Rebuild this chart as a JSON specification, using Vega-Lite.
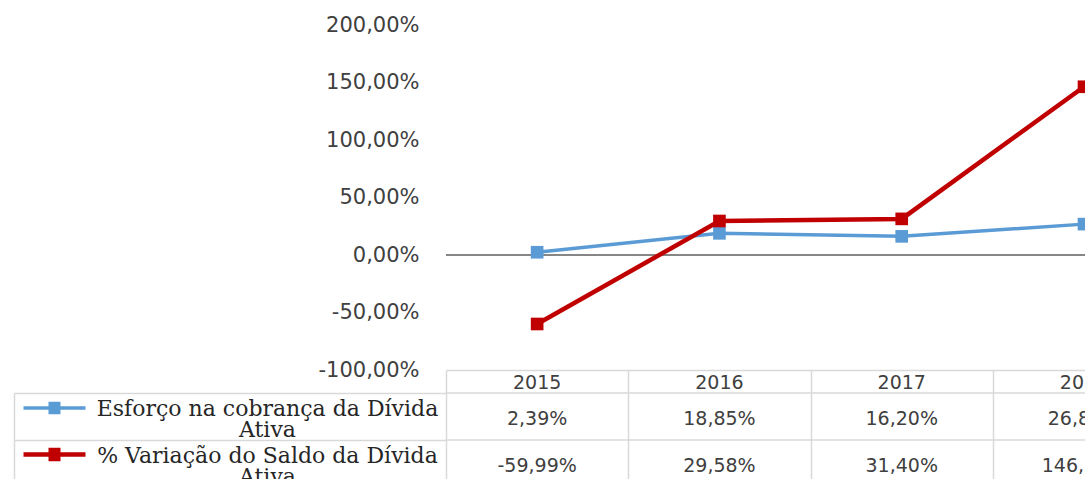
{
  "$schema": "https://vega.github.io/schema/vega-lite/v6.json",
  "background": "white",
  "padding": {"left": 13, "top": 14, "right": 0, "bottom": 0},
  "bounds": "flush",
  "spacing": 0,
  "config": {
    "view": {"stroke": null},
    "locale": {"number": {"decimal": ",", "thousands": ".", "grouping": [3], "currency": ["R$", ""], "minus": "-"}}
  },
  "datasets": {
    "valores": [
      {"ano": 2015, "serie": "Esforço na cobrança da Dívida Ativa", "valor": 0.0239},
      {"ano": 2016, "serie": "Esforço na cobrança da Dívida Ativa", "valor": 0.1885},
      {"ano": 2017, "serie": "Esforço na cobrança da Dívida Ativa", "valor": 0.1620},
      {"ano": 2018, "serie": "Esforço na cobrança da Dívida Ativa", "valor": 0.2685},
      {"ano": 2015, "serie": "% Variação do Saldo da Dívida Ativa", "valor": -0.5999},
      {"ano": 2016, "serie": "% Variação do Saldo da Dívida Ativa", "valor": 0.2958},
      {"ano": 2017, "serie": "% Variação do Saldo da Dívida Ativa", "valor": 0.3140},
      {"ano": 2018, "serie": "% Variação do Saldo da Dívida Ativa", "valor": 1.4630}
    ]
  },
  "vconcat": [
    {
      "width": 640,
      "height": 345,
      "data": {"name": "valores"},
      "layer": [
        {
          "data": {"values": [{"zero": 0}]},
          "mark": {"type": "rule", "color": "#868686", "strokeWidth": 2},
          "encoding": {"y": {"field": "zero", "type": "quantitative"}}
        },
        {
          "mark": {"type": "line", "clip": true, "point": {"shape": "square", "size": 160, "filled": true, "clip": true}},
          "encoding": {
            "x": {"field": "ano", "type": "quantitative", "scale": {"domain": [2014.5, 2018.011], "nice": false, "zero": false}, "axis": null},
            "y": {
              "field": "valor", "type": "quantitative",
              "scale": {"domain": [-1, 2], "nice": false},
              "axis": {"title": null, "values": [-1, -0.5, 0, 0.5, 1, 1.5, 2], "format": ".2%", "grid": false, "ticks": false, "domain": false, "labelFont": "DejaVu Sans", "labelFontSize": 21, "labelColor": "#404040", "labelPadding": 27}
            },
            "strokeWidth": {
              "field": "serie", "type": "nominal",
              "scale": {"domain": ["Esforço na cobrança da Dívida Ativa", "% Variação do Saldo da Dívida Ativa"], "range": [3.5, 4.5]},
              "legend": null
            },
            "color": {
              "field": "serie", "type": "nominal",
              "scale": {"domain": ["Esforço na cobrança da Dívida Ativa", "% Variação do Saldo da Dívida Ativa"], "range": ["#5B9BD5", "#C00000"]},
              "legend": {"orient": "none", "legendX": -404, "legendY": 371, "title": null, "symbolType": "M-3.1,0H3.1M-0.6,-0.45H0.6M-0.6,-0.15H0.6M-0.6,0.15H0.6M-0.6,0.45H0.6", "symbolSize": 400, "symbolStrokeWidth": 4, "labelFontSize": 1, "labelExpr": "''", "rowPadding": 21, "padding": 0, "symbolOffset": 0}
            }
          }
        }
      ]
    },
    {
      "width": 640,
      "height": 23,
      "data": {"name": "valores"},
      "transform": [{"filter": "datum.serie == 'Esforço na cobrança da Dívida Ativa'"}],
      "mark": {"type": "text", "font": "DejaVu Sans", "fontSize": 19, "color": "#404040", "clip": true, "dy": 1},
      "encoding": {
        "x": {"field": "ano", "type": "quantitative", "scale": {"domain": [2014.5, 2018.011], "nice": false, "zero": false},
              "axis": {"orient": "top", "title": null, "values": [2014.5, 2015.5, 2016.5, 2017.5], "grid": true, "gridColor": "#d9d9d9", "gridWidth": 1.5, "labels": false, "ticks": false, "domain": true, "domainColor": "#d9d9d9", "domainWidth": 1.5}},
        "text": {"field": "ano", "type": "nominal"}
      }
    },
    {
      "width": 640,
      "height": 94,
      "data": {"name": "valores"},
      "layer": [
        {
          "transform": [{"filter": "datum.ano == 2015"}],
          "mark": {"type": "rule", "color": "#d9d9d9", "strokeWidth": 1.5},
          "encoding": {
            "y": {"field": "serie", "type": "nominal", "bandPosition": 0}
          }
        },
        {
          "mark": {"type": "text", "font": "DejaVu Sans", "fontSize": 19, "color": "#404040", "clip": true, "dy": 2},
          "encoding": {
            "x": {"field": "ano", "type": "quantitative", "scale": {"domain": [2014.5, 2018.011], "nice": false, "zero": false},
                  "axis": {"orient": "top", "title": null, "values": [2014.5, 2015.5, 2016.5, 2017.5], "grid": true, "gridColor": "#d9d9d9", "gridWidth": 1.5, "labels": false, "ticks": false, "domain": false}},
            "y": {"field": "serie", "type": "nominal",
                  "scale": {"domain": ["Esforço na cobrança da Dívida Ativa", "% Variação do Saldo da Dívida Ativa"], "paddingInner": 0, "paddingOuter": 0},
                  "axis": {"orient": "left", "title": null, "offset": 432, "tickBand": "extent", "grid": false, "ticks": true, "tickSize": -432, "tickColor": "#d9d9d9", "tickWidth": 1.5, "domain": true, "domainColor": "#d9d9d9", "domainWidth": 1.5,
                           "labelExpr": "indexof(datum.label + '', ' Ativa') > 0 ? [replace(datum.label, ' Ativa', ''), 'Ativa'] : ''", "labelAlign": "center", "labelBaseline": "middle", "labelPadding": 179, "labelOffset": -8,
                           "labelFont": "DejaVu Serif", "labelFontSize": 22, "labelLineHeight": 21, "labelColor": "#262626", "labelLimit": 0}},
            "text": {"field": "valor", "type": "quantitative", "format": ".2%"}
          }
        }
      ]
    }
  ]
}
